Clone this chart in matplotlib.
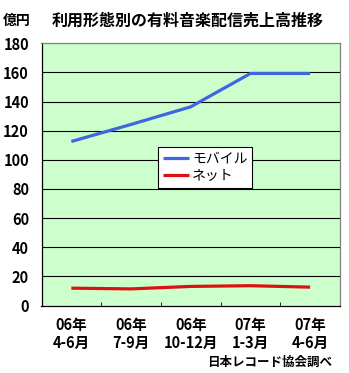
import matplotlib
matplotlib.use('Agg')
from matplotlib import pyplot as plt

plt.rcParams['font.family'] = ['Noto Sans CJK JP', 'DejaVu Sans']

# data
quarters = ['06年\n4-6月', '06年\n7-9月', '06年\n10-12月', '07年\n1-3月', '07年\n4-6月']
mobile = [112.6, 124.3, 136.4, 159.3, 159.3]
net = [11.9, 11.4, 13.1, 13.6, 12.6]
y_ticks = [0, 20, 40, 60, 80, 100, 120, 140, 160, 180]

fig = plt.figure(figsize=(3.49, 3.73), dpi=100)
ax = fig.add_axes([41.5 / 349, 1 - 305.5 / 373, (340 - 41.5) / 349, (305.5 - 43.3) / 373])
ax.set_facecolor('#ccffcc')

x = list(range(len(quarters)))
ax.plot(x, mobile, color='#3f66e0', lw=2.3, label='モバイル', solid_capstyle='butt')
ax.plot(x, net, color='#dd1111', lw=2.3, label='ネット', solid_capstyle='butt')

ax.set_xlim(-0.5, len(quarters) - 0.5)
ax.set_ylim(0, 180)
ax.set_yticks(y_ticks)
ax.set_yticklabels([str(v) for v in y_ticks], fontsize=10.5, fontweight='bold')
for v in y_ticks[1:-1]:
    ax.axhline(v, color='black', lw=0.8, zorder=1)

ax.set_xticks(x)
ax.set_xticklabels(quarters, fontsize=10.5, fontweight='bold', linespacing=1.2)
ax.set_xticks([i + 0.5 for i in x[:-1]], minor=True)
ax.tick_params(axis='x', which='major', length=0, pad=8)
ax.tick_params(axis='x', which='minor', length=3, direction='in', color='black')
ax.tick_params(axis='y', length=0, pad=9)

for side in ['left', 'bottom']:
    ax.spines[side].set_color('black')
    ax.spines[side].set_linewidth(0.9)
for side in ['top', 'right']:
    ax.spines[side].set_color('#808080')
    ax.spines[side].set_linewidth(0.9)

leg = ax.legend(loc='upper left', bbox_to_anchor=(158 / 349, 1 - 147 / 373),
                bbox_transform=fig.transFigure, fontsize=10, frameon=True,
                fancybox=False, edgecolor='black', framealpha=1,
                handlelength=1.9, handletextpad=0.2, borderpad=0.35,
                labelspacing=0.2, borderaxespad=0)
leg.get_frame().set_linewidth(0.8)

fig.text(17 / 349, 1 - 21 / 373, '億円', fontsize=10, fontweight='bold', ha='center', va='center')
fig.text(188 / 349, 1 - 21 / 373, '利用形態別の有料音楽配信売上高推移', fontsize=11.5,
         fontweight='bold', ha='center', va='center')
fig.text(332 / 349, 1 - 362 / 373, '日本レコード協会調べ', fontsize=9, fontweight='bold',
         ha='right', va='center')

plt.savefig('out.png', dpi=100)
